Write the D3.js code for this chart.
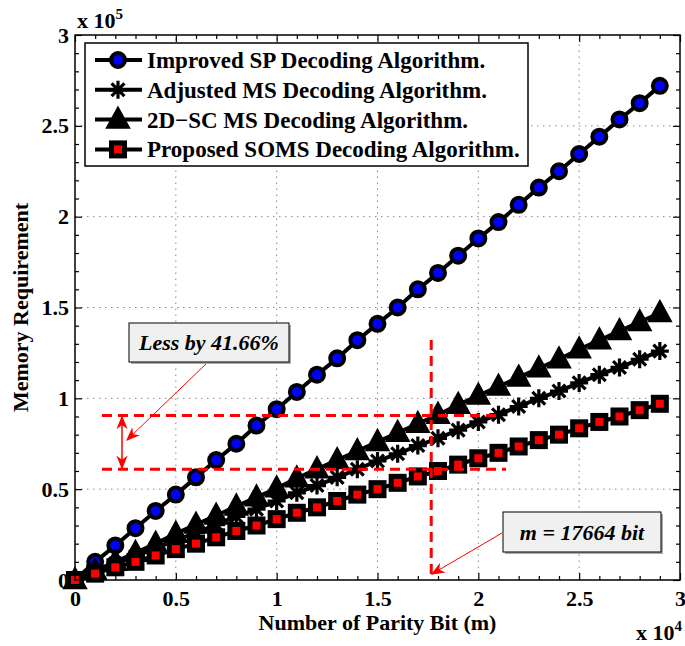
<!DOCTYPE html>
<html>
<head>
<meta charset="utf-8">
<script src="https://cdn.jsdelivr.net/npm/d3@7"></script>
<style>
  body { margin: 0; background: #fff; }
  text { font-family: "Liberation Serif", "Times New Roman", serif; font-weight: bold; }
</style>
</head>
<body>
<div id="chart"></div>
<script>
// parity bits m (x axis)
const parityBits = [0, 1000, 2000, 3000, 4000, 5000, 6000, 7000, 8000, 9000,
    10000, 11000, 12000, 13000, 14000, 15000, 16000, 17000, 18000, 19000,
    20000, 21000, 22000, 23000, 24000, 25000, 26000, 27000, 28000, 29000];

// memory requirement, in units of 1e5
const improvedSP = [0, 0.10, 0.19, 0.285, 0.38, 0.47, 0.565, 0.66, 0.75, 0.85,
    0.94, 1.035, 1.13, 1.22, 1.32, 1.41, 1.50, 1.60, 1.69, 1.785,
    1.88, 1.97, 2.065, 2.16, 2.25, 2.345, 2.44, 2.535, 2.625, 2.72];
const adjustedMS = [0, 0.045, 0.09, 0.13, 0.175, 0.22, 0.26, 0.305, 0.35, 0.39,
    0.435, 0.48, 0.52, 0.565, 0.61, 0.655, 0.695, 0.74, 0.78, 0.825,
    0.87, 0.91, 0.955, 1.0, 1.04, 1.085, 1.13, 1.17, 1.215, 1.26];
const scMS2D = [0, 0.05, 0.10, 0.15, 0.20, 0.255, 0.305, 0.355, 0.405, 0.455,
    0.505, 0.56, 0.61, 0.66, 0.71, 0.76, 0.81, 0.86, 0.91, 0.965,
    1.015, 1.065, 1.115, 1.165, 1.215, 1.27, 1.32, 1.37, 1.42, 1.47];
const proposedSOMS = [0, 0.035, 0.07, 0.10, 0.135, 0.17, 0.20, 0.235, 0.27, 0.30,
    0.335, 0.37, 0.40, 0.435, 0.47, 0.50, 0.535, 0.57, 0.60, 0.635,
    0.67, 0.70, 0.735, 0.77, 0.80, 0.835, 0.87, 0.90, 0.935, 0.97];

const seriesNames = ["Improved SP Decoding Algorithm.", "Adjusted MS Decoding Algorithm.",
    "2D\u2212SC MS Decoding Algorithm.", "Proposed SOMS Decoding Algorithm."];
const seriesMarkers = ["circle", "star", "triangle", "square"];
const seriesValues = [improvedSP, adjustedMS, scMS2D, proposedSOMS];

const xTicks = [0, 5000, 10000, 15000, 20000, 25000, 30000];
const yTicks = [0, 50000, 100000, 150000, 200000, 250000, 300000];

// annotation values
const markBits = 17664;
const upperLevel = 0.905e5;
const lowerLevel = 0.61e5;

const width = 685, height = 646;
const margin = { left: 75, right: 5, top: 35, bottom: 66 };

const svg = d3.select("#chart").append("svg")
    .attr("width", width)
    .attr("height", height);

const x = d3.scaleLinear().domain([0, 30000]).range([margin.left, width - margin.right]);
const y = d3.scaleLinear().domain([0, 300000]).range([height - margin.bottom, margin.top]);

const x0 = x.range()[0], x1 = x.range()[1], y0 = y.range()[0], y1 = y.range()[1];

// grid
const grid = svg.append("g").attr("stroke", "#888").attr("stroke-width", 1).attr("stroke-dasharray", "1.5,4.5");
grid.selectAll(null).data(xTicks.slice(1, -1)).join("line")
    .attr("x1", d => x(d)).attr("x2", d => x(d)).attr("y1", y0).attr("y2", y1);
grid.selectAll(null).data(yTicks.slice(1, -1)).join("line")
    .attr("y1", d => y(d)).attr("y2", d => y(d)).attr("x1", x0).attr("x2", x1);

// axes (ticks inside, mirrored)
const xMinor = d3.range(0, 30001, 1000).filter(d => d % 5000 != 0);
const yMinor = d3.range(0, 300001, 10000).filter(d => d % 50000 != 0);
const fmtX = d => d3.format("~g")(d / 1e4);
const fmtY = d => d3.format("~g")(d / 1e5);

const axisG = svg.append("g").attr("class", "axes");
function addAxis(axis, tr) {
    const g = axisG.append("g").attr("transform", tr).call(axis);
    g.select(".domain").remove();
    g.selectAll("line").attr("stroke", "#000").attr("stroke-width", 1.2);
    g.selectAll("text").attr("font-size", 22).attr("fill", "#000")
        .attr("font-family", "Liberation Serif, Times New Roman, serif").attr("font-weight", "bold");
    return g;
}
addAxis(d3.axisBottom(x).tickValues(xTicks).tickSize(-7).tickPadding(10).tickFormat(fmtX), `translate(0,${y0})`);
addAxis(d3.axisBottom(x).tickValues(xMinor).tickSize(-4).tickFormat(""), `translate(0,${y0})`);
addAxis(d3.axisTop(x).tickValues(xTicks).tickSize(-7).tickFormat(""), `translate(0,${y1})`);
addAxis(d3.axisTop(x).tickValues(xMinor).tickSize(-4).tickFormat(""), `translate(0,${y1})`);
addAxis(d3.axisLeft(y).tickValues(yTicks).tickSize(-7).tickPadding(6).tickFormat(fmtY), `translate(${x0},0)`);
addAxis(d3.axisLeft(y).tickValues(yMinor).tickSize(-4).tickFormat(""), `translate(${x0},0)`);
addAxis(d3.axisRight(y).tickValues(yTicks).tickSize(-7).tickFormat(""), `translate(${x1},0)`);
addAxis(d3.axisRight(y).tickValues(yMinor).tickSize(-4).tickFormat(""), `translate(${x1},0)`);

// markers
function drawMarker(sel, type) {
    if (type == "circle") {
        sel.append("circle").attr("r", 7).attr("fill", "#0000ff").attr("stroke", "#000").attr("stroke-width", 4);
    } else if (type == "square") {
        sel.append("rect").attr("x", -6.5).attr("y", -6.5).attr("width", 13).attr("height", 13)
            .attr("fill", "#ff0000").attr("stroke", "#000").attr("stroke-width", 5);
    } else if (type == "triangle") {
        sel.append("path").attr("d", "M0,-12.5L11.5,8.5L-11.5,8.5Z").attr("fill", "#000").attr("stroke", "#000").attr("stroke-width", 1.5);
    } else {
        sel.append("path").attr("d", "M-9,0H9M0,-9V9M-6.4,-6.4L6.4,6.4M-6.4,6.4L6.4,-6.4")
            .attr("stroke", "#000").attr("stroke-width", 3.2).attr("fill", "none");
    }
}

const line = d3.line().x(d => x(d[0])).y(d => y(d[1]));
const plot = svg.append("g");
seriesValues.forEach((vals, i) => {
    const pts = parityBits.map((m, j) => [m, vals[j] * 1e5]);
    const g = plot.append("g");
    g.append("path").datum(pts).attr("d", line)
        .attr("fill", "none").attr("stroke", "#000").attr("stroke-width", 4);
    g.selectAll(null).data(pts).join("g")
        .attr("transform", d => `translate(${x(d[0])},${y(d[1])})`)
        .each(function () { drawMarker(d3.select(this), seriesMarkers[i]); });
});

// frame
svg.append("rect").attr("x", x0).attr("y", y1).attr("width", x1 - x0).attr("height", y0 - y1)
    .attr("fill", "none").attr("stroke", "#000").attr("stroke-width", 1.5);

// red annotations
const red = "#ff0000";
const ann = svg.append("g");
ann.append("line").attr("x1", 102).attr("x2", 496).attr("y1", y(upperLevel)).attr("y2", y(upperLevel))
    .attr("stroke", red).attr("stroke-width", 3).attr("stroke-dasharray", "10,6");
ann.append("line").attr("x1", 102).attr("x2", 506).attr("y1", y(lowerLevel)).attr("y2", y(lowerLevel))
    .attr("stroke", red).attr("stroke-width", 3).attr("stroke-dasharray", "10,6");
ann.append("line").attr("x1", x(markBits)).attr("x2", x(markBits)).attr("y1", 340).attr("y2", y0 - 4)
    .attr("stroke", red).attr("stroke-width", 3).attr("stroke-dasharray", "10,6");

const defs = svg.append("defs");
defs.append("marker").attr("id", "head").attr("viewBox", "0 0 10 10").attr("refX", 9).attr("refY", 5)
    .attr("markerWidth", 14).attr("markerHeight", 14).attr("markerUnits", "userSpaceOnUse").attr("orient", "auto-start-reverse")
    .append("path").attr("d", "M0,1L10,5L0,9L3,5Z").attr("fill", red);

ann.append("line").attr("x1", 122).attr("x2", 122).attr("y1", y(upperLevel) + 1).attr("y2", y(lowerLevel) - 1)
    .attr("stroke", red).attr("stroke-width", 1.5)
    .attr("marker-start", "url(#head)").attr("marker-end", "url(#head)");
ann.append("line").attr("x1", 208).attr("y1", 362).attr("x2", 127).attr("y2", 440)
    .attr("stroke", red).attr("stroke-width", 1).attr("marker-end", "url(#head)");
ann.append("line").attr("x1", 502).attr("y1", 533).attr("x2", 432).attr("y2", 574)
    .attr("stroke", red).attr("stroke-width", 1).attr("marker-end", "url(#head)");

function textBox(bx, by, bw, bh, label) {
    ann.append("rect").attr("x", bx + 2).attr("y", by + 2).attr("width", bw).attr("height", bh).attr("fill", "#aaa");
    ann.append("rect").attr("x", bx).attr("y", by).attr("width", bw).attr("height", bh)
        .attr("fill", "#f0f0f0").attr("stroke", "#000").attr("stroke-width", 1);
    ann.append("text").attr("x", bx + bw / 2).attr("y", by + bh / 2).attr("dy", "0.35em")
        .attr("text-anchor", "middle").attr("font-size", 22).attr("font-style", "italic").text(label);
}
textBox(129, 323, 160, 39, "Less by 41.66%");
textBox(503, 512, 158, 40, "m = 17664 bit");

// legend
const legend = svg.append("g");
legend.append("rect").attr("x", 85).attr("y", 43).attr("width", 443).attr("height", 123)
    .attr("fill", "#fff").attr("stroke", "#000").attr("stroke-width", 1.5);
seriesNames.forEach((name, i) => {
    const ly = 60 + i * 29.8;
    const g = legend.append("g");
    g.append("line").attr("x1", 95).attr("x2", 142).attr("y1", ly).attr("y2", ly)
        .attr("stroke", "#000").attr("stroke-width", 4);
    drawMarker(g.append("g").attr("transform", `translate(118,${ly})`), seriesMarkers[i]);
    g.append("text").attr("x", 147).attr("y", ly).attr("dy", "0.35em").attr("font-size", 23).text(name);
});

// axis labels
svg.append("text").attr("x", (x0 + x1) / 2).attr("y", 630).attr("text-anchor", "middle")
    .attr("font-size", 22).text("Number of Parity Bit (m)");
svg.append("text").attr("transform", `translate(28,${(y0 + y1) / 2}) rotate(-90)`).attr("text-anchor", "middle")
    .attr("font-size", 22).text("Memory Requirement");

// exponent labels
const e5 = svg.append("text").attr("x", 77).attr("y", 28).attr("font-size", 22);
e5.append("tspan").text("x 10");
e5.append("tspan").attr("dy", -9).attr("font-size", 15).text("5");
const e4 = svg.append("text").attr("x", 636).attr("y", 640).attr("font-size", 22);
e4.append("tspan").text("x 10");
e4.append("tspan").attr("dy", -9).attr("font-size", 15).text("4");
</script>
</body>
</html>
